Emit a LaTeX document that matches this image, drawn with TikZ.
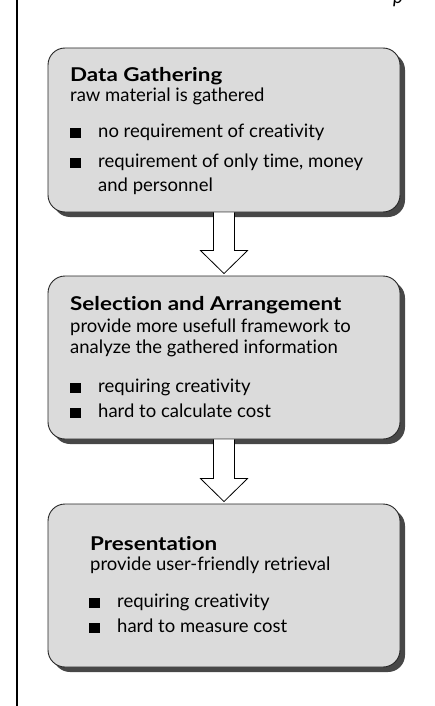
\documentclass[tikz,border=0pt]{standalone}
\usepackage{fontspec}
\setmainfont{Lato}[Ligatures={NoCommon}, BoldFeatures={FakeStretch=1.18}]
\usetikzlibrary{calc,shadows}

% white block arrow from the bottom of one stage to just above the next
\newcommand{\blockarrow}[2]{%
  \filldraw[blockarrow]
    ($(#1.south)+(-10.5,0)$) -- ($(#2.north)+(-10.5,-25)$)
    -- ($(#2.north)+(-23.5,-25)$) -- ($(#2.north)+(0,-2)$)
    -- ($(#2.north)+(23.5,-25)$) -- ($(#2.north)+(10.5,-25)$)
    -- ($(#1.south)+(10.5,0)$);}

\begin{document}
\begin{tikzpicture}[x=1pt,y=-1pt,
  stage/.style={draw=black!85, line width=0.9pt, fill=black!14,
    rounded corners=17pt, minimum width=352pt, minimum height=163pt,
    inner sep=0pt,
    drop shadow={shadow xshift=5pt, shadow yshift=-5pt, fill=black!72, opacity=1}},
  txt/.style={anchor=base west, inner sep=0pt, font=\fontsize{18.5}{22}\selectfont},
  ttl/.style={anchor=base west, inner sep=0pt, font=\fontsize{19}{22}\selectfont\bfseries},
  sq/.style={fill=black, minimum width=11pt, minimum height=10pt, inner sep=0pt, anchor=south west},
  blockarrow/.style={fill=white, draw=black, line width=0.8pt},
]
\useasboundingbox (0,0) rectangle (434,706);

% margin rule on the left
\coordinate (ruletop) at (17,0);
\coordinate (rulebot) at (17,706);
\draw[line width=1.2pt] (ruletop) -- (rulebot);

% tail of a letter from the line above
\node[anchor=base west, inner sep=0pt, font=\itshape\fontsize{19}{22}\selectfont] (pfrag) at (393,4) {p};

% the three stages
\node[stage, minimum height=164pt] (b1) at (224,130) {};
\node[stage] (b2) at (224,357.5) {};
\node[stage] (b3) at (224,585.5) {};

\blockarrow{b1}{b2}
\blockarrow{b2}{b3}

% Data Gathering
\node[ttl] (t1) at (70,82) {Data Gathering};
\node[txt] (s1) at (70,102) {raw material is gathered};
\node[sq] (q11) at (70,138) {};
\node[txt] (i11) at (98,137) {no requirement of creativity};
\node[sq] (q12) at (70,168) {};
\node[txt] (i12) at (98,167) {requirement of only time, money};
\node[txt] (i12b) at (98,191) {and personnel};

% Selection and Arrangement
\node[ttl] (t2) at (70,310) {Selection and Arrangement};
\node[txt] (s2a) at (70,332) {provide more usefull framework to};
\node[txt] (s2b) at (70,353) {analyze the gathered information};
\node[sq] (q21) at (70,393) {};
\node[txt] (i21) at (98,392) {requiring creativity};
\node[sq] (q22) at (70,418) {};
\node[txt] (i22) at (98,417) {hard to calculate cost};

% Presentation
\node[ttl] (t3) at (90,550) {Presentation};
\node[txt] (s3) at (90,570) {provide user-friendly retrieval};
\node[sq] (q31) at (89,608) {};
\node[txt] (i31) at (117,607) {requiring creativity};
\node[sq] (q32) at (89,633) {};
\node[txt] (i32) at (117,632) {hard to measure cost};
\end{tikzpicture}
\end{document}
